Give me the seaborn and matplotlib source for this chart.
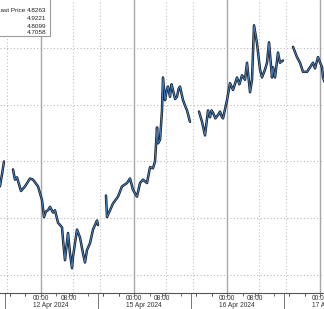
import numpy as np
import pandas as pd
import matplotlib
matplotlib.use("Agg")
import matplotlib.pyplot as plt
import matplotlib.transforms as mtrans
from matplotlib.patches import Rectangle
import seaborn as sns

# ---- data (hours since 12 Apr 2024 00:00, weekend removed; yield) ----
seg_a_h = [-10.6, -10.0, -9.55]
seg_a_y = [4.778, 4.790, 4.800]

seg_b_h = [-7.23, -6.71, -6.2, -5.16, -4.13, -2.84, -2.06, -0.77, 0.26, 0.77, 1.3, 1.81, 2.32,
           3.10, 3.61, 4.39, 5.42, 5.68, 6.19, 6.97, 7.48, 8.0, 8.26, 9.29, 10.06, 10.84,
           11.35, 11.87, 12.65, 13.42, 14.45, 14.71]
seg_b_y = [4.793, 4.784, 4.786, 4.774, 4.778, 4.785, 4.784, 4.778, 4.766, 4.751, 4.756, 4.757,
           4.760, 4.755, 4.757, 4.746, 4.742, 4.731, 4.713, 4.737, 4.719, 4.706, 4.716,
           4.740, 4.733, 4.719, 4.711, 4.722, 4.728, 4.740, 4.748, 4.744]

seg_c_h = [16.77, 17.03, 17.81, 18.58, 19.87, 20.90, 22.19, 22.97, 23.74, 24.77, 25.55, 26.32,
           27.35, 28.13, 28.90, 29.42, 29.94, 30.19, 30.71, 31.23, 31.48, 32.0, 32.4, 32.77,
           33.29, 33.7, 34.06, 34.6, 35.10, 35.5, 35.87, 36.65, 37.2, 37.68, 38.45]
seg_c_y = [4.770, 4.751, 4.757, 4.763, 4.769, 4.778, 4.781, 4.785, 4.775, 4.769, 4.781, 4.784,
           4.781, 4.795, 4.794, 4.800, 4.830, 4.816, 4.819, 4.845, 4.874, 4.854, 4.862, 4.866,
           4.857, 4.868, 4.863, 4.855, 4.857, 4.864, 4.866, 4.854, 4.849, 4.845, 4.835]

seg_d_h = [40.77, 41.55, 42.32, 43.10, 43.61, 44.0, 44.39, 45.0, 45.68, 46.2, 46.71, 46.97,
           48.0, 48.77, 49.55, 50.58, 51.2, 51.87, 52.65, 53.16, 53.94, 54.45, 54.97, 55.74,
           56.52, 57.03, 57.81, 58.32, 58.84, 59.61, 59.87, 60.39, 61.16, 61.68, 62.45]
seg_d_y = [4.844, 4.835, 4.823, 4.845, 4.839, 4.845, 4.843, 4.838, 4.841, 4.844, 4.839, 4.838,
           4.854, 4.869, 4.863, 4.874, 4.868, 4.876, 4.872, 4.887, 4.861, 4.872, 4.920, 4.904,
           4.881, 4.874, 4.881, 4.887, 4.905, 4.874, 4.883, 4.874, 4.896, 4.887, 4.889]

seg_e_h = [65.03, 66.06, 66.84, 67.61, 68.65, 69.42, 70.19, 70.71, 71.48, 72.52, 72.77, 73.2]
seg_e_y = [4.901, 4.892, 4.887, 4.879, 4.879, 4.883, 4.887, 4.882, 4.892, 4.883, 4.874, 4.870]

day_hours = [0, 24, 48, 72]
day_labels = ["12 Apr 2024", "15 Apr 2024", "16 Apr 2024", "17 Apr 2024"]
tick_names = ["00:00", "08:00"]
y_grid = [4.70, 4.75, 4.80, 4.85, 4.90]
legend_name = "Last Price"
legend_vals = ["4.8263", "4.9221", "4.8099", "4.7058"]

segs = [(seg_a_h, seg_a_y), (seg_b_h, seg_b_y), (seg_c_h, seg_c_y),
        (seg_d_h, seg_d_y), (seg_e_h, seg_e_y)]
df = pd.concat([pd.DataFrame({"h": h, "y": y, "seg": i}) for i, (h, y) in enumerate(segs)],
               ignore_index=True)

# ---- figure ----
sns.set_style("white")
plt.rcParams["font.family"] = ["Liberation Sans", "DejaVu Sans"]
W, H = 324, 309
fig = plt.figure(figsize=(W / 100, H / 100), dpi=100)
ax = fig.add_axes([0, 16 / H, 1, 293 / H])

sns.lineplot(data=df, x="h", y="y", units="seg", estimator=None, color="#18222e",
             lw=1.8, ax=ax, zorder=3, legend=False)
sns.lineplot(data=df, x="h", y="y", units="seg", estimator=None, color="#4a8ad0",
             lw=0.6, ax=ax, zorder=4, legend=False)

ax.set_xlabel("")
ax.set_ylabel("")
ax.set_yticks([])
for s in ["left", "right", "top"]:
    ax.spines[s].set_visible(False)
ax.spines["bottom"].set_color("#555555")
ax.spines["bottom"].set_linewidth(0.8)

# grid
for yv in y_grid:
    ax.axhline(yv, color="#b8b8b8", lw=0.8, ls=(0, (1, 2)), zorder=1)
for d in day_hours:
    ax.axvline(d, color="#a8a8a8", lw=1.0, zorder=1)
    ax.axvline(d + 8.3, color="#c0c0c0", lw=0.8, ls=(0, (1, 2)), zorder=1)
    ax.axvline(d - 8.7, color="#c0c0c0", lw=0.8, ls=(0, (1, 2)), zorder=1)

# ticks & labels
tick_pos = []
tick_lab = []
for d in day_hours:
    tick_pos += [d, d + 7.2]
    tick_lab += tick_names
ax.set_xticks(tick_pos)
ax.set_xticklabels([])
ax.set_xticks([d + k for d in [-24] + day_hours for k in range(-8, 24, 4)], minor=True)
ax.tick_params(axis="x", which="both", direction="out", length=2.5, width=0.6,
               color="#555555", bottom=True)

ax.set_xlim(-10.58, 73.03)
ax.set_ylim(4.6841, 4.9423)

tr = mtrans.blended_transform_factory(ax.transData, ax.transAxes)
for p, l in zip(tick_pos, tick_lab):
    ax.text(p, -5.5 / 293, l, transform=tr, ha="center", va="center", fontsize=4.8,
            color="#333333", clip_on=False)
for d, l in zip(day_hours, day_labels):
    ax.text(d + 2.6, -12.5 / 293, l, transform=tr, ha="center", va="center", fontsize=4.8,
            color="#333333", clip_on=False)
    # day separators below the axis
    ax.plot([d - 9.3, d - 9.3], [0, -16 / 293], transform=tr, color="#777777", lw=0.7,
            clip_on=False)

# legend box
fig.patches.append(Rectangle((-0.02, (H - 36) / H), 50 / W + 0.02, 0.2,
                             transform=fig.transFigure, facecolor="white",
                             edgecolor="#9a9a9a", lw=0.8, zorder=10))
rows = [10, 18, 26, 33]
fig.text(25.5 / W, 1 - rows[0] / H, legend_name, ha="right", va="center", fontsize=4.6,
         color="#222222", zorder=11)
for r, v in zip(rows, legend_vals):
    fig.text(46 / W, 1 - r / H, v, ha="right", va="center", fontsize=4.6,
             color="#222222", zorder=11)

fig.savefig("out.png", dpi=100)
